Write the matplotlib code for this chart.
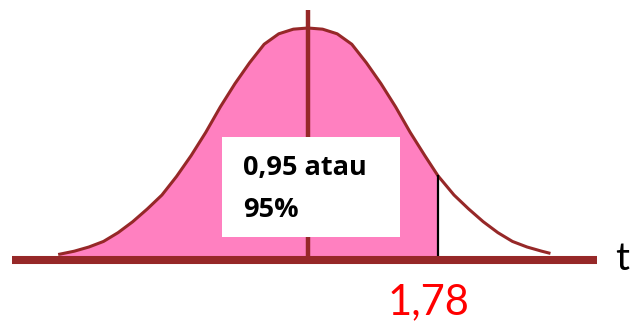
import numpy as np
import matplotlib.pyplot as plt

# curve heights (peak = 1)
t_vals = [-3.4, -3.2, -3.0, -2.8, -2.6, -2.4, -2.2, -2.0, -1.8, -1.6, -1.4, -1.2, -1.0,
          -0.8, -0.6, -0.4, -0.2, 0.0, 0.2, 0.4, 0.6, 0.8, 1.0, 1.2, 1.4, 1.6, 1.78,
          2.0, 2.2, 2.4, 2.6, 2.8, 3.0, 3.2, 3.3]
h_vals = [0.025, 0.038, 0.056, 0.08, 0.118, 0.165, 0.22, 0.28, 0.36, 0.45, 0.55,
          0.66, 0.76, 0.85, 0.93, 0.975, 0.995, 1.0, 0.995, 0.975, 0.93, 0.85,
          0.76, 0.66, 0.55, 0.45, 0.363, 0.28, 0.22, 0.165, 0.118, 0.08, 0.056,
          0.038, 0.03]
t_crit = 1.78
label_crit = "1,78"
label_area = ["0,95 atau", "95%"]

t = np.array(t_vals)
h = np.array(h_vals)

dark_red = "#962828"
pink = "#ff80c0"

fig = plt.figure(figsize=(6.35, 3.27), dpi=100)
ax = fig.add_axes([0, 0, 1, 1])
ax.set_xlim(-4.217, 4.478)
ax.set_ylim(-0.2888, 1.1207)
ax.axis("off")

# area up to t_crit
m = t <= t_crit
ax.fill_between(t[m], 0, h[m], color=pink, lw=0, zorder=1)

# curve
ax.plot(t, h, color=dark_red, lw=2.2, zorder=3)

# baseline
ax.plot([-4.053, 3.957], [0, 0], color=dark_red, lw=5.8, solid_capstyle="butt", zorder=4)

# centre line
ax.plot([0, 0], [0, 1.078], color=dark_red, lw=3.2, solid_capstyle="butt", zorder=2)

# line at t_crit
ax.plot([t_crit, t_crit], [0, h[t == t_crit][0]], color="black", lw=1.6, zorder=3)

# white box with text
ax.add_patch(plt.Rectangle((-1.178, 0.099), 2.438, 0.431, facecolor="white",
                           edgecolor="none", zorder=5))
for line, y in zip(label_area, [0.397, 0.216]):
    ax.text(-0.89, y, line, fontsize=19.5, fontweight="bold", family="Open Sans",
            va="center", ha="left", zorder=6)

ax.text(4.3, 0.005, "t", fontsize=28, family="Lato", va="center", ha="center")
ax.text(1.65, -0.18, label_crit, fontsize=30, family="Lato", color="red",
        va="center", ha="center")

fig.savefig("out.png", dpi=100)
